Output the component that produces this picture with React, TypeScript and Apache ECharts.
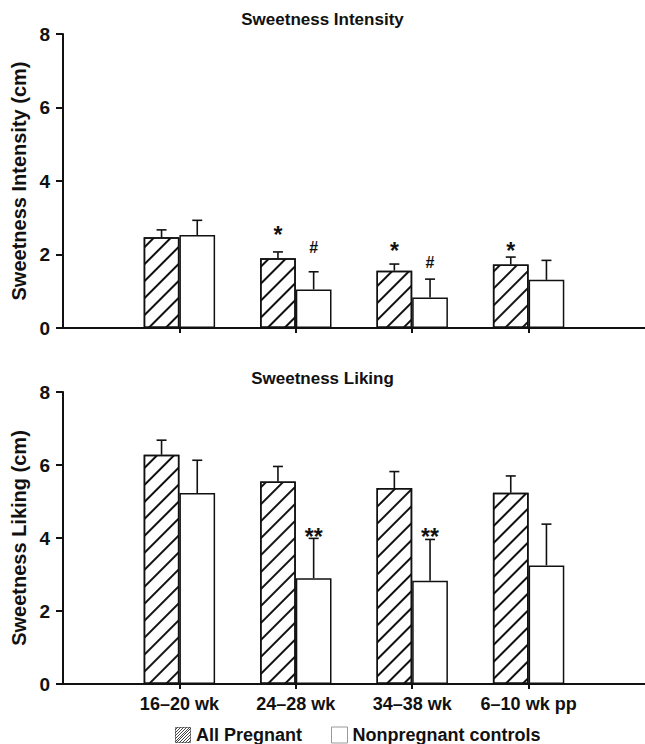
import React, { useEffect, useRef } from 'react';
import * as echarts from 'echarts';

const categories = ['16–20 wk', '24–28 wk', '34–38 wk', '6–10 wk pp'];
const seriesNames = ['All Pregnant', 'Nonpregnant controls'];
const yTickValues = [0, 2, 4, 6, 8];

const intensityPregnant = [2.47, 1.9, 1.56, 1.73];
const intensityPregnantSE = [0.2, 0.17, 0.18, 0.2];
const intensityControls = [2.53, 1.05, 0.83, 1.31];
const intensityControlsSE = [0.4, 0.48, 0.5, 0.53];

const likingPregnant = [6.28, 5.55, 5.37, 5.24];
const likingPregnantSE = [0.4, 0.41, 0.45, 0.46];
const likingControls = [5.23, 2.9, 2.83, 3.25];
const likingControlsSE = [0.9, 1.09, 1.13, 1.13];

const intensityPregnantMarks = ['', '*', '*', '*'];
const intensityPregnantMarkY = [0, 2.71, 2.28, 2.28];
const intensityControlsMarks = ['', '#', '#', ''];
const intensityControlsMarkY = [0, 2.2, 1.77, 0];
const likingControlsMarks = ['', '**', '**', ''];
const likingControlsMarkY = [0, 4.2, 4.2, 0];

const FONT = 'Liberation Sans, Arial, Helvetica, sans-serif';
const INK = '#111';
const BAR_W = 35.7;

const hatch = {
  symbol: 'rect',
  symbolSize: 1,
  dashArrayX: [1, 0],
  dashArrayY: [1.3, 9.5],
  rotation: -Math.PI / 4,
  color: INK,
};

const legendHatchSvg =
  "<svg xmlns='http://www.w3.org/2000/svg' width='16' height='16'>" +
  "<rect x='0.5' y='0.5' width='15' height='15' fill='white' stroke='#888'/>" +
  "<path d='M0 3L3 0M0 6L6 0M0 9L9 0M0 12L12 0M0 15L15 0M1 16L16 1M4 16L16 4M7 16L16 7M10 16L16 10M13 16L16 13' stroke='#444' stroke-width='1'/>" +
  '</svg>';
const legendHatchIcon = 'image://data:image/svg+xml;charset=utf-8,' + encodeURIComponent(legendHatchSvg);

function barSeries(name: string, values: number[], gi: number, pattern: boolean) {
  return {
    type: 'bar',
    name,
    xAxisIndex: gi,
    yAxisIndex: gi,
    data: values.map((v, i) => [i + 1, v]),
    barWidth: BAR_W,
    barGap: '0%',
    itemStyle: {
      color: '#fff',
      borderColor: INK,
      borderWidth: 1.5,
      ...(pattern ? { decal: hatch } : {}),
    },
    z: 2,
  };
}

function errSeries(values: number[], se: number[], gi: number, side: number) {
  return {
    type: 'custom',
    xAxisIndex: gi,
    yAxisIndex: gi,
    data: values.map((v, i) => [i + 1, v, se[i]]),
    encode: { x: 0, y: 1 },
    z: 3,
    silent: true,
    renderItem: (params: any, api: any) => {
      const x = api.value(0);
      const m = api.value(1);
      const s = api.value(2);
      const p0 = api.coord([x, m]);
      const p1 = api.coord([x, m + s]);
      const cx = p0[0] + (side * BAR_W) / 2;
      const st = { stroke: INK, lineWidth: 1.6 };
      return {
        type: 'group',
        children: [
          { type: 'line', shape: { x1: cx, y1: p0[1], x2: cx, y2: p1[1] }, style: st },
          { type: 'line', shape: { x1: cx - 5, y1: p1[1], x2: cx + 5, y2: p1[1] }, style: st },
        ],
      };
    },
  };
}

function markSeries(marks: string[], ys: number[], gi: number, side: number) {
  return {
    type: 'custom',
    xAxisIndex: gi,
    yAxisIndex: gi,
    data: ys.map((y, i) => [i + 1, y]),
    encode: { x: 0, y: 1 },
    z: 4,
    silent: true,
    renderItem: (params: any, api: any) => {
      const t = marks[params.dataIndex];
      if (!t) return null;
      const p = api.coord([api.value(0), api.value(1)]);
      const isHash = t === '#';
      const fs = isHash ? 16 : 23;
      return {
        type: 'text',
        x: p[0] + (side * BAR_W) / 2,
        y: p[1] + (isHash ? 0 : fs * 0.28),
        style: {
          text: t,
          fontSize: fs,
          fontWeight: 'bold',
          fontFamily: FONT,
          fill: INK,
          align: 'center',
          verticalAlign: 'middle',
        },
      };
    },
  };
}

function axisPair(gi: number, name: string) {
  const lineStyle = { color: INK, width: 2 };
  return {
    x: {
      gridIndex: gi,
      type: 'value',
      min: 0,
      max: 5,
      axisLine: { show: true, onZero: false, lineStyle },
      axisTick: { show: true, customValues: [1, 2, 3, 4], length: 5, lineStyle },
      axisLabel: {
        show: gi === 1,
        customValues: [1, 2, 3, 4],
        formatter: (v: number) => categories[Math.round(v) - 1] ?? '',
        fontSize: 18,
        fontWeight: 'bold',
        fontFamily: FONT,
        color: INK,
        margin: 11,
      },
      splitLine: { show: false },
    },
    y: {
      gridIndex: gi,
      type: 'value',
      min: 0,
      max: 8,
      interval: 2,
      axisLine: { show: true, lineStyle },
      axisTick: { show: true, length: 7, lineStyle },
      axisLabel: {
        customValues: yTickValues,
        fontSize: 19,
        fontWeight: 'bold',
        fontFamily: FONT,
        color: INK,
        margin: 13,
      },
      splitLine: { show: false },
      name,
      nameLocation: 'middle',
      nameGap: 33,
      nameTextStyle: { fontSize: 20, fontWeight: 'bold', fontFamily: FONT, color: INK },
    },
  };
}

export default function App() {
  const ref = useRef<HTMLDivElement>(null);
  useEffect(() => {
    const chart = echarts.init(ref.current!, null, { renderer: 'svg' });
    const a0 = axisPair(0, 'Sweetness Intensity (cm)');
    const a1 = axisPair(1, 'Sweetness Liking (cm)');
    chart.setOption({
      animation: false,
      backgroundColor: '#fff',
      textStyle: { fontFamily: FONT },
      title: [
        { text: 'Sweetness Intensity', left: 'center', top: 6, textStyle: { fontSize: 17, fontWeight: 'bold', fontFamily: FONT, color: INK } },
        { text: 'Sweetness Liking', left: 'center', top: 365, textStyle: { fontSize: 17, fontWeight: 'bold', fontFamily: FONT, color: INK } },
      ],
      grid: [
        { left: 63, top: 34, height: 294, width: 587 },
        { left: 63, top: 392, height: 292, width: 587 },
      ],
      xAxis: [a0.x, a1.x],
      yAxis: [a0.y, a1.y],
      legend: {
        left: 170,
        top: 721,
        itemWidth: 16,
        itemHeight: 16,
        itemGap: 29,
        selectedMode: false,
        data: [
          { name: seriesNames[0], icon: legendHatchIcon },
          { name: seriesNames[1], icon: 'rect', itemStyle: { color: '#fff', borderColor: '#999', borderWidth: 1 } },
        ],
        textStyle: { fontSize: 18, fontWeight: 'bold', fontFamily: FONT, color: INK },
      },
      series: [
        barSeries(seriesNames[0], intensityPregnant, 0, true),
        barSeries(seriesNames[1], intensityControls, 0, false),
        barSeries(seriesNames[0], likingPregnant, 1, true),
        barSeries(seriesNames[1], likingControls, 1, false),
        errSeries(intensityPregnant, intensityPregnantSE, 0, -1),
        errSeries(intensityControls, intensityControlsSE, 0, 1),
        errSeries(likingPregnant, likingPregnantSE, 1, -1),
        errSeries(likingControls, likingControlsSE, 1, 1),
        markSeries(intensityPregnantMarks, intensityPregnantMarkY, 0, -1),
        markSeries(intensityControlsMarks, intensityControlsMarkY, 0, 1),
        markSeries(likingControlsMarks, likingControlsMarkY, 1, 1),
      ],
    });
    return () => chart.dispose();
  }, []);
  return <div ref={ref} style={{ position: 'absolute', left: 0, top: 0, width: 645, height: 744 }} />;
}
